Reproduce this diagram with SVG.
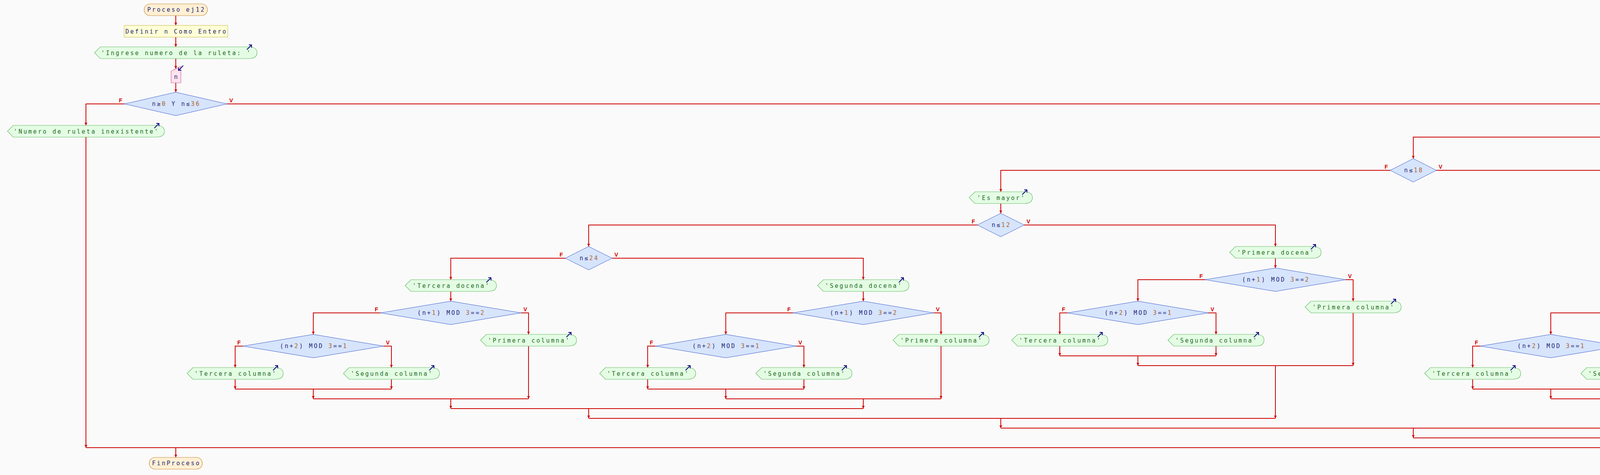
<svg xmlns="http://www.w3.org/2000/svg" width="7020" height="1216" viewBox="0 0 7020 1216">
<defs>
<marker id="ah" viewBox="0 0 10 10" refX="10" refY="5" markerWidth="7" markerHeight="10" markerUnits="userSpaceOnUse" orient="auto"><path d="M0,0 L10,5 L0,10 z" fill="#cc0000"/></marker>
<style>
.c{fill:none;stroke:#cc0000;stroke-width:2}
.o{fill:#e4fce4;stroke:#66bb66;stroke-width:1.2}
.d{fill:#d6e4fc;stroke:#3b5bcc;stroke-width:1}
.ic{fill:none;stroke:#0a0a80;stroke-width:2}
.t{font-family:"DejaVu Sans Mono","Liberation Mono",monospace;font-size:15px;letter-spacing:3.4px;text-anchor:middle}
.g{fill:#1c6c1c}
.nv{fill:#1e2478}
.nm{fill:#b0602a}
.l{font-family:"Liberation Sans",Arial,sans-serif;font-weight:bold;font-size:14px;fill:#cc0000}
.le{text-anchor:end}
</style>
</defs>
<rect width="7020" height="1216" fill="#fafafa"/>

<g id="connectors">
<g class="c" marker-end="url(#ah)">
<path d="M450,40 L450,65"/><path d="M450,95 L450,120"/><path d="M450,150 L450,176"/><path d="M450,212 L450,236"/>
<path d="M319,266 L220,266 L220,321"/><path d="M581,266 L6787,266 L6787,321"/><path d="M220,351 L220,1146"/>
<path d="M6727,351 L3618,351 L3618,406"/><path d="M6847,351 L6908,351 L6908,406"/><path d="M6908,436 L6908,1121"/>
<path d="M3559,436 L2562,436 L2562,491"/><path d="M3677,436 L5730,436 L5730,491"/>
<path d="M3618,1096 L3618,1121"/><path d="M6787,1121 L6787,1146"/><path d="M450,1146 L450,1171"/>
<path d="M2562,521 L2562,546"/><path d="M2502,576 L1507,576 L1507,631"/><path d="M2622,576 L3265,576 L3265,631"/><path d="M3265,661 L3265,686"/>
<path d="M1447,661 L1154,661 L1154,716"/><path d="M1567,661 L2210,661 L2210,716"/><path d="M1154,746 L1154,771"/><path d="M2210,746 L2210,771"/>
<path d="M1507,1046 L1507,1071"/><path d="M2562,1071 L2562,1096"/>
<path d="M5730,521 L5730,546"/><path d="M5670,576 L4675,576 L4675,631"/><path d="M5790,576 L6433,576 L6433,631"/><path d="M6433,661 L6433,686"/>
<path d="M4615,661 L4322,661 L4322,716"/><path d="M4735,661 L5378,661 L5378,716"/><path d="M4322,746 L4322,771"/><path d="M5378,746 L5378,771"/>
<path d="M4675,1046 L4675,1071"/><path d="M5730,1071 L5730,1096"/>
<path d="M974,801 L802,801 L802,856"/><path d="M1334,801 L1353,801 L1353,856"/><path d="M622,886 L602,886 L602,941"/><path d="M982,886 L1002,886 L1002,941"/>
<path d="M602,971 L602,996"/><path d="M1002,971 L1002,996"/><path d="M802,996 L802,1021"/><path d="M1353,886 L1353,1021"/><path d="M1154,1021 L1154,1046"/>
<path d="M2030,801 L1858,801 L1858,856"/><path d="M2390,801 L2409,801 L2409,856"/><path d="M1678,886 L1658,886 L1658,941"/><path d="M2038,886 L2058,886 L2058,941"/>
<path d="M1658,971 L1658,996"/><path d="M2058,971 L2058,996"/><path d="M1858,996 L1858,1021"/><path d="M2409,886 L2409,1021"/><path d="M2210,1021 L2210,1046"/>
<path d="M3085,716 L2913,716 L2913,771"/><path d="M3445,716 L3464,716 L3464,771"/><path d="M2733,801 L2713,801 L2713,856"/><path d="M3093,801 L3113,801 L3113,856"/>
<path d="M2713,886 L2713,911"/><path d="M3113,886 L3113,911"/><path d="M2913,911 L2913,936"/><path d="M3464,801 L3464,936"/><path d="M3265,936 L3265,1071"/>
<path d="M4142,801 L3970,801 L3970,856"/><path d="M4502,801 L4521,801 L4521,856"/><path d="M3790,886 L3770,886 L3770,941"/><path d="M4150,886 L4170,886 L4170,941"/>
<path d="M3770,971 L3770,996"/><path d="M4170,971 L4170,996"/><path d="M3970,996 L3970,1021"/><path d="M4521,886 L4521,1021"/><path d="M4322,1021 L4322,1046"/>
<path d="M5198,801 L5026,801 L5026,856"/><path d="M5558,801 L5577,801 L5577,856"/><path d="M4846,886 L4826,886 L4826,941"/><path d="M5206,886 L5226,886 L5226,941"/>
<path d="M4826,971 L4826,996"/><path d="M5226,971 L5226,996"/><path d="M5026,996 L5026,1021"/><path d="M5577,886 L5577,1021"/><path d="M5378,1021 L5378,1046"/>
<path d="M6253,716 L6081,716 L6081,771"/><path d="M6613,716 L6632,716 L6632,771"/><path d="M5901,801 L5881,801 L5881,856"/><path d="M6261,801 L6281,801 L6281,856"/>
<path d="M5881,886 L5881,911"/><path d="M6281,886 L6281,911"/><path d="M6081,911 L6081,936"/><path d="M6632,801 L6632,936"/><path d="M6433,936 L6433,1071"/>
</g>
<g class="c">
<path d="M220,1146 L6787,1146"/><path d="M3618,1121 L6908,1121"/><path d="M2562,1096 L5730,1096"/>
<path d="M1507,1071 L3265,1071"/><path d="M1154,1046 L2210,1046"/><path d="M4675,1071 L6433,1071"/><path d="M4322,1046 L5378,1046"/>
<path d="M602,996 L1002,996"/><path d="M802,1021 L1353,1021"/>
<path d="M1658,996 L2058,996"/><path d="M1858,1021 L2409,1021"/>
<path d="M2713,911 L3113,911"/><path d="M2913,936 L3464,936"/>
<path d="M3770,996 L4170,996"/><path d="M3970,1021 L4521,1021"/>
<path d="M4826,996 L5226,996"/><path d="M5026,1021 L5577,1021"/>
<path d="M5881,911 L6281,911"/><path d="M6081,936 L6632,936"/>
</g>
<g class="l">
<text x="313" y="262" class="le">F</text><text x="587" y="262">V</text>
<text x="6721" y="347" class="le">F</text><text x="6853" y="347">V</text>
<text x="3553" y="432" class="le">F</text><text x="3683" y="432">V</text>
<text x="2496" y="572" class="le">F</text><text x="2628" y="572">V</text>
<text x="1441" y="657" class="le">F</text><text x="1573" y="657">V</text>
<text x="5664" y="572" class="le">F</text><text x="5796" y="572">V</text>
<text x="4609" y="657" class="le">F</text><text x="4741" y="657">V</text>
<text x="968" y="797" class="le">F</text><text x="1340" y="797">V</text><text x="616" y="882" class="le">F</text><text x="988" y="882">V</text>
<text x="2024" y="797" class="le">F</text><text x="2396" y="797">V</text><text x="1672" y="882" class="le">F</text><text x="2044" y="882">V</text>
<text x="3079" y="712" class="le">F</text><text x="3451" y="712">V</text><text x="2727" y="797" class="le">F</text><text x="3099" y="797">V</text>
<text x="4136" y="797" class="le">F</text><text x="4508" y="797">V</text><text x="3784" y="882" class="le">F</text><text x="4156" y="882">V</text>
<text x="5192" y="797" class="le">F</text><text x="5564" y="797">V</text><text x="4840" y="882" class="le">F</text><text x="5212" y="882">V</text>
<text x="6247" y="712" class="le">F</text><text x="6619" y="712">V</text><text x="5895" y="797" class="le">F</text><text x="6267" y="797">V</text>
</g>
</g>

<g id="inicio"><rect x="369" y="10" width="162" height="30" rx="15" fill="#fff0d4" stroke="#c88a3a" stroke-width="1.2"/><text class="t nv" x="451.5" y="30">Proceso ej12</text></g>
<g id="definir"><rect x="318" y="65" width="265" height="30" fill="#ffffd6" stroke="#d0c462" stroke-width="1.2"/><text class="t nv" x="451.5" y="86">Definir n Como Entero</text></g>
<g id="escribir-ingrese"><path class="o" d="M242,135 L257,120 L636,120 Q658,120 658,135 Q658,150 636,150 L257,150 Z"/><path class="ic" d="M632,127 L644,115 M637,115 L644,115 L644,122"/><text class="t g" x="451.5" y="141">'Ingrese numero de la ruleta: '</text></g>
<g id="leer-n"><path d="M438,182 L463,170 L463,212 L438,212 Z" fill="#ffe2ee" stroke="#c86a8e" stroke-width="1.2"/><path class="ic" d="M469,168 L457,180 M457,173 L457,180 L464,180"/><text class="t nv" x="452" y="202">n</text></g>
<g id="si-rango"><polygon class="d" points="319,266 450,236 581,266 450,296"/><text class="t nv" x="451.5" y="271">n≥<tspan class="nm">0</tspan> Y n≤<tspan class="nm">36</tspan></text></g>
<g id="escribir-inexistente"><path class="o" d="M19,336 L34,321 L399,321 Q421,321 421,336 Q421,351 399,351 L34,351 Z"/><path class="ic" d="M395,328 L407,316 M400,316 L407,316 L407,323"/><text class="t g" x="221.5" y="342">'Numero de ruleta inexistente'</text></g>
<g id="si-cero"><polygon class="d" points="6727,351 6787,321 6847,351 6787,381"/><text class="t nv" x="6788.5" y="356">n==<tspan class="nm">0</tspan></text></g>
<g id="escribir-banca"><path class="o" d="M6814,421 L6829,406 L6980,406 Q7002,406 7002,421 Q7002,436 6980,436 L6829,436 Z"/><path class="ic" d="M6976,413 L6988,401 M6981,401 L6988,401 L6988,408"/><text class="t g" x="6909.5" y="427">'Banca gana'</text></g>
<g id="si-18"><polygon class="d" points="3559,436 3618,406 3677,436 3618,466"/><text class="t nv" x="3619.5" y="441">n≤<tspan class="nm">18</tspan></text></g>
<g id="escribir-mayor"><path class="o" d="M2481,506 L2496,491 L2621,491 Q2643,491 2643,506 Q2643,521 2621,521 L2496,521 Z"/><path class="ic" d="M2617,498 L2629,486 M2622,486 L2629,486 L2629,493"/><text class="t g" x="2563.5" y="512">'Es mayor'</text></g>
<g id="escribir-menor"><path class="o" d="M5649,506 L5664,491 L5789,491 Q5811,491 5811,506 Q5811,521 5789,521 L5664,521 Z"/><path class="ic" d="M5785,498 L5797,486 M5790,486 L5797,486 L5797,493"/><text class="t g" x="5731.5" y="512">'Es menor'</text></g>

<g id="si-12-a"><polygon class="d" points="2502,576 2562,546 2622,576 2562,606"/><text class="t nv" x="2563.5" y="581">n≤<tspan class="nm">12</tspan></text></g>
<g id="si-24-a"><polygon class="d" points="1447,661 1507,631 1567,661 1507,691"/><text class="t nv" x="1508.5" y="666">n≤<tspan class="nm">24</tspan></text></g>
<g id="tercera-docena-a"><path class="o" d="M1037,731 L1052,716 L1249,716 Q1271,716 1271,731 Q1271,746 1249,746 L1052,746 Z"/><path class="ic" d="M1245,723 L1257,711 M1250,711 L1257,711 L1257,718"/><text class="t g" x="1155.5" y="737">'Tercera docena'</text></g>
<g id="segunda-docena-a"><path class="o" d="M2093,731 L2108,716 L2305,716 Q2327,716 2327,731 Q2327,746 2305,746 L2108,746 Z"/><path class="ic" d="M2301,723 L2313,711 M2306,711 L2313,711 L2313,718"/><text class="t g" x="2211.5" y="737">'Segunda docena'</text></g>
<g id="primera-docena-a"><path class="o" d="M3148,646 L3163,631 L3360,631 Q3382,631 3382,646 Q3382,661 3360,661 L3163,661 Z"/><path class="ic" d="M3356,638 L3368,626 M3361,626 L3368,626 L3368,633"/><text class="t g" x="3266.5" y="652">'Primera docena'</text></g>

<g id="mod1-td-a"><polygon class="d" points="974,801 1154,771 1334,801 1154,831"/><text class="t nv" x="1155.5" y="806">(n+<tspan class="nm">1</tspan>) MOD <tspan class="nm">3</tspan>==<tspan class="nm">2</tspan></text></g>
<g id="mod2-td-a"><polygon class="d" points="622,886 802,856 982,886 802,916"/><text class="t nv" x="803.5" y="891">(n+<tspan class="nm">2</tspan>) MOD <tspan class="nm">3</tspan>==<tspan class="nm">1</tspan></text></g>
<g id="pc-td-a"><path class="o" d="M1230,871 L1245,856 L1454,856 Q1476,856 1476,871 Q1476,886 1454,886 L1245,886 Z"/><path class="ic" d="M1450,863 L1462,851 M1455,851 L1462,851 L1462,858"/><text class="t g" x="1354.5" y="877">'Primera columna'</text></g>
<g id="tc-td-a"><path class="o" d="M479,956 L494,941 L703,941 Q725,941 725,956 Q725,971 703,971 L494,971 Z"/><path class="ic" d="M699,948 L711,936 M704,936 L711,936 L711,943"/><text class="t g" x="603.5" y="962">'Tercera columna'</text></g>
<g id="sc-td-a"><path class="o" d="M879,956 L894,941 L1103,941 Q1125,941 1125,956 Q1125,971 1103,971 L894,971 Z"/><path class="ic" d="M1099,948 L1111,936 M1104,936 L1111,936 L1111,943"/><text class="t g" x="1003.5" y="962">'Segunda columna'</text></g>

<g id="mod1-sd-a"><polygon class="d" points="2030,801 2210,771 2390,801 2210,831"/><text class="t nv" x="2211.5" y="806">(n+<tspan class="nm">1</tspan>) MOD <tspan class="nm">3</tspan>==<tspan class="nm">2</tspan></text></g>
<g id="mod2-sd-a"><polygon class="d" points="1678,886 1858,856 2038,886 1858,916"/><text class="t nv" x="1859.5" y="891">(n+<tspan class="nm">2</tspan>) MOD <tspan class="nm">3</tspan>==<tspan class="nm">1</tspan></text></g>
<g id="pc-sd-a"><path class="o" d="M2286,871 L2301,856 L2510,856 Q2532,856 2532,871 Q2532,886 2510,886 L2301,886 Z"/><path class="ic" d="M2506,863 L2518,851 M2511,851 L2518,851 L2518,858"/><text class="t g" x="2410.5" y="877">'Primera columna'</text></g>
<g id="tc-sd-a"><path class="o" d="M1535,956 L1550,941 L1759,941 Q1781,941 1781,956 Q1781,971 1759,971 L1550,971 Z"/><path class="ic" d="M1755,948 L1767,936 M1760,936 L1767,936 L1767,943"/><text class="t g" x="1659.5" y="962">'Tercera columna'</text></g>
<g id="sc-sd-a"><path class="o" d="M1935,956 L1950,941 L2159,941 Q2181,941 2181,956 Q2181,971 2159,971 L1950,971 Z"/><path class="ic" d="M2155,948 L2167,936 M2160,936 L2167,936 L2167,943"/><text class="t g" x="2059.5" y="962">'Segunda columna'</text></g>

<g id="mod1-pd-a"><polygon class="d" points="3085,716 3265,686 3445,716 3265,746"/><text class="t nv" x="3266.5" y="721">(n+<tspan class="nm">1</tspan>) MOD <tspan class="nm">3</tspan>==<tspan class="nm">2</tspan></text></g>
<g id="mod2-pd-a"><polygon class="d" points="2733,801 2913,771 3093,801 2913,831"/><text class="t nv" x="2914.5" y="806">(n+<tspan class="nm">2</tspan>) MOD <tspan class="nm">3</tspan>==<tspan class="nm">1</tspan></text></g>
<g id="pc-pd-a"><path class="o" d="M3341,786 L3356,771 L3565,771 Q3587,771 3587,786 Q3587,801 3565,801 L3356,801 Z"/><path class="ic" d="M3561,778 L3573,766 M3566,766 L3573,766 L3573,773"/><text class="t g" x="3465.5" y="792">'Primera columna'</text></g>
<g id="tc-pd-a"><path class="o" d="M2590,871 L2605,856 L2814,856 Q2836,856 2836,871 Q2836,886 2814,886 L2605,886 Z"/><path class="ic" d="M2810,863 L2822,851 M2815,851 L2822,851 L2822,858"/><text class="t g" x="2714.5" y="877">'Tercera columna'</text></g>
<g id="sc-pd-a"><path class="o" d="M2990,871 L3005,856 L3214,856 Q3236,856 3236,871 Q3236,886 3214,886 L3005,886 Z"/><path class="ic" d="M3210,863 L3222,851 M3215,851 L3222,851 L3222,858"/><text class="t g" x="3114.5" y="877">'Segunda columna'</text></g>

<g id="si-12-b"><polygon class="d" points="5670,576 5730,546 5790,576 5730,606"/><text class="t nv" x="5731.5" y="581">n≤<tspan class="nm">12</tspan></text></g>
<g id="si-24-b"><polygon class="d" points="4615,661 4675,631 4735,661 4675,691"/><text class="t nv" x="4676.5" y="666">n≤<tspan class="nm">24</tspan></text></g>
<g id="tercera-docena-b"><path class="o" d="M4205,731 L4220,716 L4417,716 Q4439,716 4439,731 Q4439,746 4417,746 L4220,746 Z"/><path class="ic" d="M4413,723 L4425,711 M4418,711 L4425,711 L4425,718"/><text class="t g" x="4323.5" y="737">'Tercera docena'</text></g>
<g id="segunda-docena-b"><path class="o" d="M5261,731 L5276,716 L5473,716 Q5495,716 5495,731 Q5495,746 5473,746 L5276,746 Z"/><path class="ic" d="M5469,723 L5481,711 M5474,711 L5481,711 L5481,718"/><text class="t g" x="5379.5" y="737">'Segunda docena'</text></g>
<g id="primera-docena-b"><path class="o" d="M6316,646 L6331,631 L6528,631 Q6550,631 6550,646 Q6550,661 6528,661 L6331,661 Z"/><path class="ic" d="M6524,638 L6536,626 M6529,626 L6536,626 L6536,633"/><text class="t g" x="6434.5" y="652">'Primera docena'</text></g>

<g id="mod1-td-b"><polygon class="d" points="4142,801 4322,771 4502,801 4322,831"/><text class="t nv" x="4323.5" y="806">(n+<tspan class="nm">1</tspan>) MOD <tspan class="nm">3</tspan>==<tspan class="nm">2</tspan></text></g>
<g id="mod2-td-b"><polygon class="d" points="3790,886 3970,856 4150,886 3970,916"/><text class="t nv" x="3971.5" y="891">(n+<tspan class="nm">2</tspan>) MOD <tspan class="nm">3</tspan>==<tspan class="nm">1</tspan></text></g>
<g id="pc-td-b"><path class="o" d="M4398,871 L4413,856 L4622,856 Q4644,856 4644,871 Q4644,886 4622,886 L4413,886 Z"/><path class="ic" d="M4618,863 L4630,851 M4623,851 L4630,851 L4630,858"/><text class="t g" x="4522.5" y="877">'Primera columna'</text></g>
<g id="tc-td-b"><path class="o" d="M3647,956 L3662,941 L3871,941 Q3893,941 3893,956 Q3893,971 3871,971 L3662,971 Z"/><path class="ic" d="M3867,948 L3879,936 M3872,936 L3879,936 L3879,943"/><text class="t g" x="3771.5" y="962">'Tercera columna'</text></g>
<g id="sc-td-b"><path class="o" d="M4047,956 L4062,941 L4271,941 Q4293,941 4293,956 Q4293,971 4271,971 L4062,971 Z"/><path class="ic" d="M4267,948 L4279,936 M4272,936 L4279,936 L4279,943"/><text class="t g" x="4171.5" y="962">'Segunda columna'</text></g>

<g id="mod1-sd-b"><polygon class="d" points="5198,801 5378,771 5558,801 5378,831"/><text class="t nv" x="5379.5" y="806">(n+<tspan class="nm">1</tspan>) MOD <tspan class="nm">3</tspan>==<tspan class="nm">2</tspan></text></g>
<g id="mod2-sd-b"><polygon class="d" points="4846,886 5026,856 5206,886 5026,916"/><text class="t nv" x="5027.5" y="891">(n+<tspan class="nm">2</tspan>) MOD <tspan class="nm">3</tspan>==<tspan class="nm">1</tspan></text></g>
<g id="pc-sd-b"><path class="o" d="M5454,871 L5469,856 L5678,856 Q5700,856 5700,871 Q5700,886 5678,886 L5469,886 Z"/><path class="ic" d="M5674,863 L5686,851 M5679,851 L5686,851 L5686,858"/><text class="t g" x="5578.5" y="877">'Primera columna'</text></g>
<g id="tc-sd-b"><path class="o" d="M4703,956 L4718,941 L4927,941 Q4949,941 4949,956 Q4949,971 4927,971 L4718,971 Z"/><path class="ic" d="M4923,948 L4935,936 M4928,936 L4935,936 L4935,943"/><text class="t g" x="4827.5" y="962">'Tercera columna'</text></g>
<g id="sc-sd-b"><path class="o" d="M5103,956 L5118,941 L5327,941 Q5349,941 5349,956 Q5349,971 5327,971 L5118,971 Z"/><path class="ic" d="M5323,948 L5335,936 M5328,936 L5335,936 L5335,943"/><text class="t g" x="5227.5" y="962">'Segunda columna'</text></g>

<g id="mod1-pd-b"><polygon class="d" points="6253,716 6433,686 6613,716 6433,746"/><text class="t nv" x="6434.5" y="721">(n+<tspan class="nm">1</tspan>) MOD <tspan class="nm">3</tspan>==<tspan class="nm">2</tspan></text></g>
<g id="mod2-pd-b"><polygon class="d" points="5901,801 6081,771 6261,801 6081,831"/><text class="t nv" x="6082.5" y="806">(n+<tspan class="nm">2</tspan>) MOD <tspan class="nm">3</tspan>==<tspan class="nm">1</tspan></text></g>
<g id="pc-pd-b"><path class="o" d="M6509,786 L6524,771 L6733,771 Q6755,771 6755,786 Q6755,801 6733,801 L6524,801 Z"/><path class="ic" d="M6729,778 L6741,766 M6734,766 L6741,766 L6741,773"/><text class="t g" x="6633.5" y="792">'Primera columna'</text></g>
<g id="tc-pd-b"><path class="o" d="M5758,871 L5773,856 L5982,856 Q6004,856 6004,871 Q6004,886 5982,886 L5773,886 Z"/><path class="ic" d="M5978,863 L5990,851 M5983,851 L5990,851 L5990,858"/><text class="t g" x="5882.5" y="877">'Tercera columna'</text></g>
<g id="sc-pd-b"><path class="o" d="M6158,871 L6173,856 L6382,856 Q6404,856 6404,871 Q6404,886 6382,886 L6173,886 Z"/><path class="ic" d="M6378,863 L6390,851 M6383,851 L6390,851 L6390,858"/><text class="t g" x="6282.5" y="877">'Segunda columna'</text></g>

<g id="fin"><rect x="382" y="1171" width="136" height="30" rx="15" fill="#fff0d4" stroke="#c88a3a" stroke-width="1.2"/><text class="t nv" x="451.5" y="1191">FinProceso</text></g>
</svg>
